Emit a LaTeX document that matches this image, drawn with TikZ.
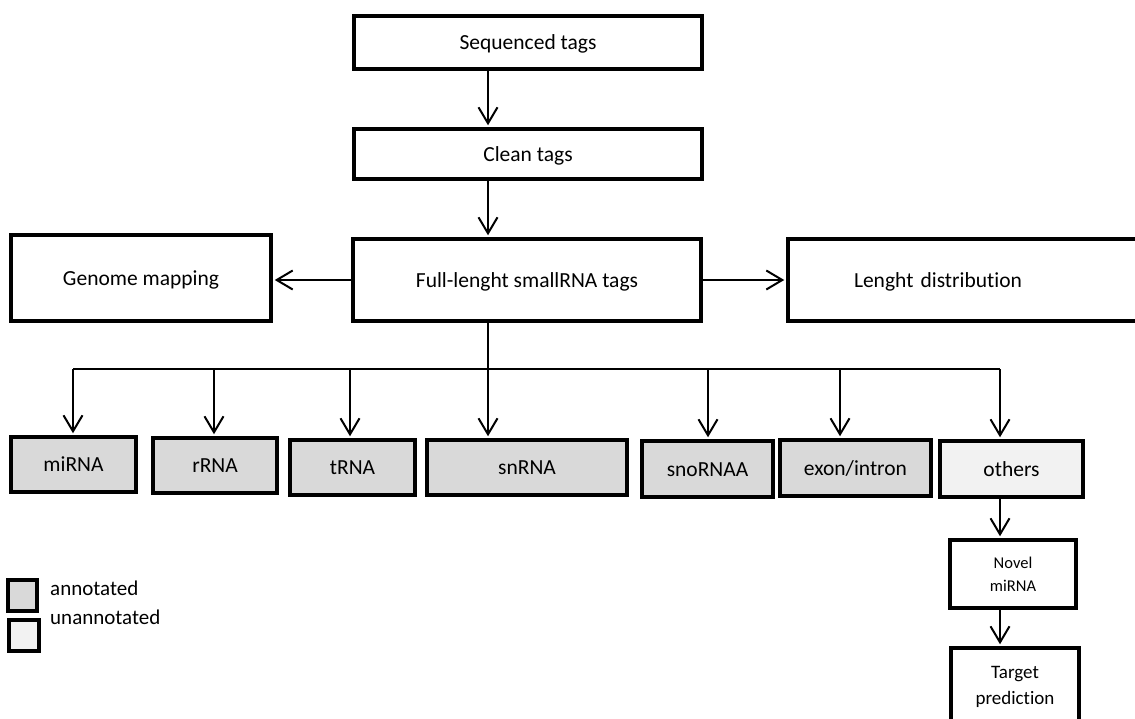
\documentclass[tikz,border=0pt]{standalone}
\usepackage{fontspec}
\setmainfont[Ligatures=NoCommon]{Carlito}
\usetikzlibrary{arrows.meta}
\definecolor{ann}{HTML}{D9D9D9}
\definecolor{unann}{HTML}{F2F2F2}
\begin{document}
\begin{tikzpicture}[x=1pt,y=-1pt,
  basebox/.style={draw=black,line width=4.5pt,rectangle,inner sep=0pt,align=center,fill=white,
    font=\fontsize{21.5}{26}\selectfont},
  box/.style={basebox,text height=16pt,text depth=2pt},
  annbox/.style={box,fill=ann},
  unbox/.style={box,fill=unann},
  conn/.style={line width=2pt},
  arr/.style={conn,shorten >=1.5pt,-{Straight Barb[length=16pt,width=19pt]}},
  legtext/.style={anchor=west,inner sep=0pt,font=\fontsize{21}{25}\selectfont}]
\useasboundingbox (0,0) rectangle (1135,718);

% main column
\node[box,minimum width=348pt,minimum height=53pt] (seq) at (528,42.5) {Sequenced tags};
\node[box,minimum width=348pt,minimum height=50pt] (clean) at (528,154) {Clean tags};
\node[box,minimum width=348pt,minimum height=82pt] (fl) at (527,280) {Full-lenght smallRNA tags};
\node[box,minimum width=260pt,minimum height=86pt] (gm) at (141,278) {Genome mapping};
\node[box,minimum width=402pt,minimum height=82pt,text width=270pt,align=left,inner xsep=66pt] (ld) at (989,280) {Lenght distribution};

% categories
\node[annbox,minimum width=125pt,minimum height=55pt] (mirna) at (73.5,464.5) {miRNA};
\node[annbox,minimum width=124pt,minimum height=55pt] (rrna) at (215,465.5) {rRNA};
\node[annbox,minimum width=125pt,minimum height=55pt] (trna) at (352.5,467.5) {tRNA};
\node[annbox,minimum width=200pt,minimum height=55pt] (snrna) at (527,467.5) {snRNA};
\node[annbox,minimum width=131pt,minimum height=56pt] (snorna) at (707.5,469) {snoRNAA};
\node[annbox,minimum width=151pt,minimum height=56pt] (exon) at (855.5,468) {exon/intron};
\node[unbox,minimum width=143pt,minimum height=56pt] (others) at (1011.5,469) {others};
\node[basebox,minimum width=126pt,minimum height=68pt,font=\fontsize{16.5}{23}\selectfont] (novel) at (1013,574) {Novel\\miRNA};
\node[basebox,minimum width=128pt,minimum height=78pt,font=\fontsize{19}{26}\selectfont] (target) at (1015,687) {Target\\prediction};

% legend
\node[annbox,minimum width=29pt,minimum height=31pt] (lega) at (22.5,595.5) {};
\node[unbox,minimum width=30pt,minimum height=31pt] (legu) at (24,635.5) {};
\node[legtext] (legat) at (50,588) {annotated};
\node[legtext] (legut) at (50,617) {unannotated};

% connectors
\coordinate (spine) at (488,0);
\coordinate (v) at (1000,0);
\coordinate (b1) at (73,369);
\coordinate (b2) at (214,369);
\coordinate (b3) at (350,369);
\coordinate (b4) at (488,369);
\coordinate (b5) at (708,369);
\coordinate (b6) at (840,369);
\coordinate (b7) at (1000,369);

\draw[arr] (spine |- seq.south) -- (spine |- clean.north);
\draw[arr] (spine |- clean.south) -- (spine |- fl.north);
\draw[arr] (fl.west) -- (fl.west -| gm.east);
\draw[arr] (fl.east) -- (fl.east -| ld.west);
\draw[conn] (spine |- fl.south) -- (b4);
\draw[conn] (b1) -- (b7);
\draw[arr] (b1) -- (b1 |- mirna.north);
\draw[arr] (b2) -- (b2 |- rrna.north);
\draw[arr] (b3) -- (b3 |- trna.north);
\draw[arr] (b4) -- (b4 |- snrna.north);
\draw[arr] (b5) -- (b5 |- snorna.north);
\draw[arr] (b6) -- (b6 |- exon.north);
\draw[arr] (b7) -- (b7 |- others.north);
\draw[arr] (v |- others.south) -- (v |- novel.north);
\draw[arr] (v |- novel.south) -- (v |- target.north);
\end{tikzpicture}
\end{document}
